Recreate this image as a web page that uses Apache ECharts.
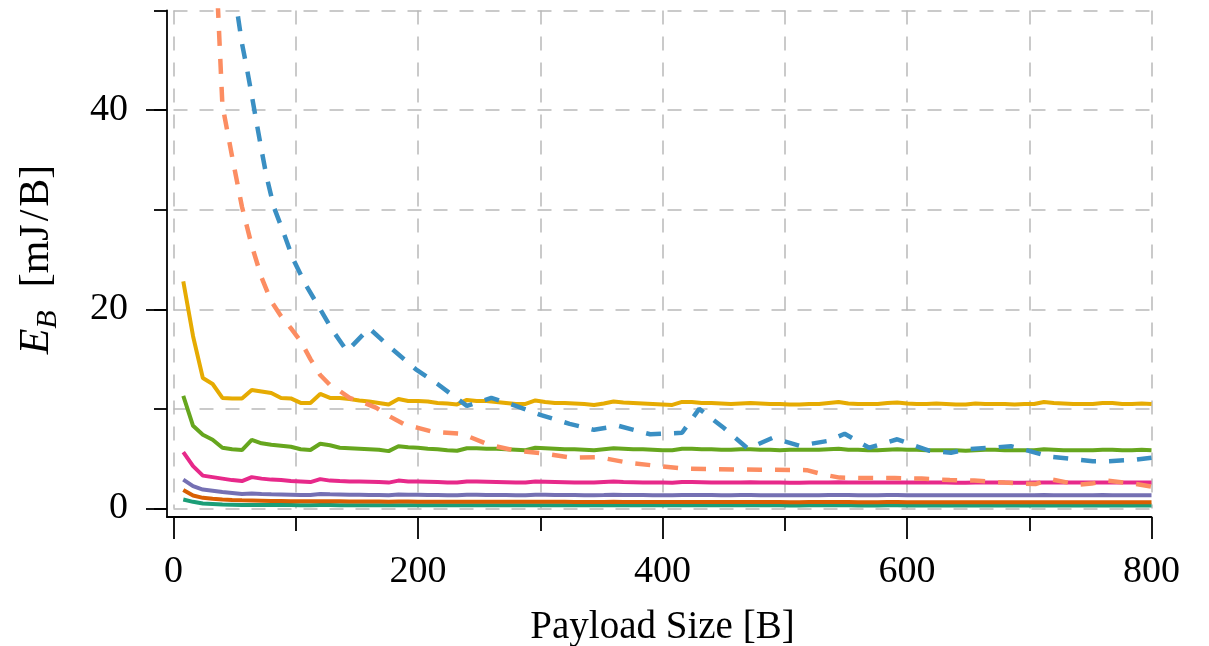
<!DOCTYPE html>
<html>
<head>
<meta charset="utf-8">
<script src="https://cdn.jsdelivr.net/npm/echarts@6/dist/echarts.min.js"></script>
<style>
html,body{margin:0;padding:0;background:#fff;}
#chart{width:1209px;height:646px;}
</style>
</head>
<body>
<div id="chart"></div>
<script>
// ---- data ----
const payloadX = [];
for (let v = 8; v <= 800; v += 8) payloadX.push(v);

const yellowY = [
  22.8, 17.3, 13.1, 12.5, 11.1, 11.05, 11.05, 11.9, 11.75, 11.6,
  11.1, 11.05, 10.6, 10.6, 11.5, 11.1, 11.1, 11.0, 10.85, 10.75,
  10.6, 10.45, 11.0, 10.8, 10.8, 10.75, 10.6, 10.55, 10.45, 10.9,
  10.8, 10.8, 10.7, 10.6, 10.5, 10.5, 10.85, 10.7, 10.6, 10.6,
  10.55, 10.5, 10.4, 10.55, 10.75, 10.65, 10.6, 10.55, 10.5, 10.45,
  10.4, 10.7, 10.7, 10.6, 10.6, 10.55, 10.5, 10.55, 10.6, 10.55,
  10.5, 10.5, 10.45, 10.45, 10.5, 10.5, 10.6, 10.7, 10.55, 10.5,
  10.5, 10.5, 10.6, 10.65, 10.55, 10.5, 10.5, 10.55, 10.5, 10.45,
  10.45, 10.55, 10.5, 10.5, 10.5, 10.45, 10.5, 10.5, 10.7, 10.6,
  10.55, 10.5, 10.5, 10.5, 10.6, 10.6, 10.5, 10.5, 10.55, 10.5
];
const greenY = [
  11.3, 8.3, 7.4, 6.9, 6.1, 5.95, 5.87, 6.9, 6.55, 6.4,
  6.3, 6.2, 5.95, 5.87, 6.5, 6.35, 6.1, 6.05, 6.0, 5.95,
  5.9, 5.76, 6.25, 6.15, 6.1, 6.0, 5.95, 5.85, 5.8, 6.05,
  6.05, 6.0, 6.0, 5.95, 5.9, 5.85, 6.1, 6.05, 6.0, 5.95,
  5.95, 5.9, 5.85, 5.95, 6.05, 6.0, 5.95, 5.95, 5.9, 5.85,
  5.85, 6.0, 6.0, 5.95, 5.95, 5.9, 5.9, 5.95, 5.95, 5.9,
  5.9, 5.85, 5.9, 5.9, 5.9, 5.9, 5.95, 6.0, 5.9, 5.9,
  5.85, 5.85, 5.9, 5.95, 5.9, 5.9, 5.85, 5.85, 5.85, 5.85,
  5.8, 5.85, 5.9, 5.9, 5.85, 5.85, 5.85, 5.85, 5.95, 5.9,
  5.85, 5.85, 5.85, 5.85, 5.9, 5.9, 5.85, 5.85, 5.9, 5.85
];
const pinkY = [
  5.66, 4.25, 3.3, 3.15, 3.0, 2.85, 2.75, 3.15, 3.0, 2.9,
  2.85, 2.75, 2.7, 2.65, 2.95, 2.8, 2.75, 2.72, 2.7, 2.68,
  2.65, 2.6, 2.8, 2.72, 2.7, 2.68, 2.65, 2.62, 2.6, 2.72,
  2.7, 2.68, 2.66, 2.64, 2.62, 2.6, 2.7, 2.68, 2.66, 2.64,
  2.62, 2.6, 2.6, 2.65, 2.7, 2.66, 2.64, 2.62, 2.6, 2.6,
  2.58, 2.66, 2.66, 2.64, 2.62, 2.6, 2.6, 2.62, 2.64, 2.62,
  2.6, 2.6, 2.58, 2.58, 2.6, 2.6, 2.62, 2.64, 2.62, 2.6,
  2.6, 2.6, 2.62, 2.62, 2.6, 2.6, 2.6, 2.6, 2.6, 2.58,
  2.58, 2.6, 2.6, 2.6, 2.6, 2.58, 2.58, 2.6, 2.62, 2.6,
  2.6, 2.6, 2.6, 2.6, 2.62, 2.6, 2.6, 2.6, 2.6, 2.6
];
const purpleY = [
  2.9, 2.25, 1.9, 1.78, 1.65, 1.55, 1.45, 1.5, 1.45, 1.42,
  1.4, 1.38, 1.36, 1.35, 1.45, 1.42, 1.4, 1.38, 1.37, 1.36,
  1.35, 1.34, 1.4, 1.38, 1.37, 1.36, 1.35, 1.34, 1.34, 1.38,
  1.37, 1.36, 1.36, 1.35, 1.34, 1.34, 1.38, 1.37, 1.36, 1.35,
  1.35, 1.34, 1.34, 1.35, 1.37, 1.36, 1.35, 1.35, 1.34, 1.34,
  1.33, 1.36, 1.36, 1.35, 1.35, 1.34, 1.34, 1.35, 1.35, 1.34,
  1.34, 1.34, 1.33, 1.33, 1.34, 1.34, 1.35, 1.36, 1.35, 1.34,
  1.34, 1.34, 1.35, 1.35, 1.34, 1.34, 1.34, 1.34, 1.34, 1.33,
  1.33, 1.34, 1.34, 1.34, 1.34, 1.33, 1.33, 1.34, 1.35, 1.34,
  1.34, 1.34, 1.34, 1.34, 1.35, 1.34, 1.34, 1.34, 1.34, 1.34
];
const darkOrangeY = [
  1.85, 1.3, 1.07, 0.98, 0.9, 0.85, 0.82, 0.8, 0.78, 0.76,
  0.75, 0.74, 0.73, 0.72, 0.74, 0.73, 0.72, 0.71, 0.71, 0.7,
  0.7, 0.69, 0.7, 0.7, 0.69, 0.69, 0.68, 0.68, 0.68, 0.69,
  0.68, 0.68, 0.68, 0.67, 0.67, 0.67, 0.68, 0.67, 0.67, 0.67,
  0.66, 0.66, 0.66, 0.66, 0.67, 0.66, 0.66, 0.66, 0.66, 0.65,
  0.65, 0.66, 0.66, 0.65, 0.65, 0.65, 0.65, 0.65, 0.65, 0.65,
  0.65, 0.65, 0.64, 0.64, 0.65, 0.65, 0.65, 0.65, 0.65, 0.64,
  0.64, 0.64, 0.65, 0.65, 0.64, 0.64, 0.64, 0.64, 0.64, 0.64,
  0.64, 0.64, 0.64, 0.64, 0.64, 0.63, 0.63, 0.64, 0.64, 0.64,
  0.64, 0.63, 0.63, 0.63, 0.64, 0.64, 0.63, 0.63, 0.63, 0.63
];
const tealY = [
  0.9, 0.67, 0.5, 0.45, 0.4, 0.38, 0.36, 0.35, 0.35, 0.34,
  0.34, 0.34, 0.33, 0.33, 0.34, 0.34, 0.33, 0.33, 0.33, 0.33,
  0.33, 0.33, 0.33, 0.33, 0.33, 0.33, 0.33, 0.32, 0.32, 0.33,
  0.33, 0.33, 0.32, 0.32, 0.32, 0.32, 0.33, 0.32, 0.32, 0.32,
  0.32, 0.32, 0.32, 0.32, 0.32, 0.32, 0.32, 0.32, 0.32, 0.32,
  0.32, 0.32, 0.32, 0.32, 0.32, 0.32, 0.32, 0.32, 0.32, 0.32,
  0.32, 0.32, 0.31, 0.31, 0.32, 0.32, 0.32, 0.32, 0.32, 0.31,
  0.31, 0.31, 0.32, 0.32, 0.31, 0.31, 0.31, 0.31, 0.31, 0.31,
  0.31, 0.31, 0.31, 0.31, 0.31, 0.31, 0.31, 0.31, 0.31, 0.31,
  0.31, 0.31, 0.31, 0.31, 0.31, 0.31, 0.31, 0.31, 0.31, 0.31
];

const blueX = [48, 52, 56, 60, 64, 68, 72, 76, 82, 90, 98, 108, 120, 130, 142, 160, 178, 198, 216, 240,
  260, 280, 300, 324, 344, 364, 390, 416, 430, 450, 470, 490, 512, 536, 549, 569, 592, 618, 636, 650,
  668, 685, 695, 717, 752, 765, 787, 800];
const blueY = [55, 50, 46.7, 44.2, 41.5, 38.7, 36, 33.4, 30.3, 27.7, 25, 22.5, 20, 17.9, 15.8, 18.1, 16.1, 14, 12.5, 10.3,
  11.1, 10.3, 9.4, 8.5, 7.9, 8.3, 7.45, 7.6, 10.0, 8.1, 6.0, 7.1, 6.3, 6.8, 7.5, 6.1, 6.95, 5.8, 5.6, 5.95,
  6.1, 6.25, 5.95, 5.2, 4.75, 4.75, 4.9, 5.1];

const orangeX = [32, 40, 48, 56, 64, 72, 80, 88, 96, 104, 112, 120, 128, 136, 144, 156, 166, 176, 188, 200,
  212, 236, 258, 280, 304, 326, 348, 372, 394, 418, 440, 480, 518, 532, 545, 565, 590, 612, 635, 655,
  680, 705, 717, 740, 751, 764, 785, 800];
const orangeY = [62, 40.5, 35.3, 30.3, 26.4, 23.2, 20.8, 19.3, 18.1, 16.8, 15, 13.4, 12.4, 11.8, 11.1, 10.6, 10.1, 9.3, 8.5, 8.1,
  7.7, 7.5, 6.4, 5.8, 5.5, 5.1, 5.15, 4.6, 4.3, 4.0, 3.95, 3.9, 3.85, 3.4, 3.1, 3.05, 3.05, 3.0, 2.85, 2.8,
  2.6, 2.45, 2.95, 2.4, 2.5, 2.8, 2.5, 2.2];

const xTickLabels = [0, 200, 400, 600, 800];
const yTickLabels = [0, 20, 40];

// ---- chart ----
const FONT = 'Liberation Serif';
const gridLine = { color: '#b9b9b9', width: 1.5, type: [14, 12] };
const blackLine = { color: '#000', width: 1.8 };

function pairs(xs, ys) { return xs.map((x, i) => [x, ys[i]]); }
function solid(name, ys, color) {
  return { name, type: 'line', data: pairs(payloadX, ys), showSymbol: false, symbol: 'none',
    lineStyle: { color, width: 4 }, xAxisIndex: 0, yAxisIndex: 0, animation: false, clip: true };
}
function dashed(name, xs, ys, color) {
  return { name, type: 'line', data: pairs(xs, ys), showSymbol: false, symbol: 'none',
    lineStyle: { color, width: 4.5, type: [15, 13] }, xAxisIndex: 0, yAxisIndex: 0, animation: false, clip: true };
}

const chart = echarts.init(document.getElementById('chart'), null, { renderer: 'canvas' });
chart.setOption({
  backgroundColor: '#fff',
  animation: false,
  grid: [
    { left: 173.5, right: 57.5, top: 10.5, bottom: 137.5, containLabel: false, outerBoundsMode: 'none' },
    { left: 167, right: 57.5, top: 10.5, bottom: 129, containLabel: false, outerBoundsMode: 'none' }
  ],
  xAxis: [
    {
      gridIndex: 0, type: 'value', min: 0, max: 800, interval: 200, position: 'bottom', offset: 8.5,
      axisLine: { show: false, onZero: false },
      axisTick: { show: true, inside: false, length: 22, lineStyle: blackLine },
      minorTick: { show: true, splitNumber: 2, length: 14, lineStyle: blackLine },
      splitLine: { show: true, lineStyle: gridLine },
      minorSplitLine: { show: true, lineStyle: gridLine },
      axisLabel: { margin: 36, fontFamily: FONT, fontSize: 38, color: '#000',
        customValues: xTickLabels },
      name: 'Payload Size [B]', nameLocation: 'middle', nameGap: 91,
      nameTextStyle: { fontFamily: FONT, fontSize: 39, color: '#000' }
    },
    {
      gridIndex: 1, type: 'value', min: 0, max: 1, position: 'bottom',
      axisLine: { show: true, onZero: false, lineStyle: blackLine },
      axisTick: { show: false }, axisLabel: { show: false }, splitLine: { show: false }
    }
  ],
  yAxis: [
    {
      gridIndex: 0, type: 'value', min: 0, max: 50, interval: 10, position: 'left', offset: 6.5,
      axisLine: { show: false, onZero: false },
      axisTick: { show: true, inside: false, length: 13, lineStyle: blackLine },
      splitLine: { show: true, lineStyle: gridLine },
      axisLabel: { show: false },
      name: '{e|E}{s|B}  [mJ{sl|/}B]', nameLocation: 'middle', nameGap: 104, nameRotate: 90,
      nameTextStyle: {
        fontFamily: FONT, fontSize: 42, color: '#000',
        rich: {
          e: { fontFamily: FONT, fontSize: 42, fontStyle: 'italic', color: '#000' },
          s: { fontFamily: FONT, fontSize: 30, fontStyle: 'italic', color: '#000', padding: [22, 2, 0, 0] },
          sl: { fontFamily: FONT, fontSize: 42, color: '#000', padding: [0, 3, 0, 3] }
        }
      }
    },
    {
      gridIndex: 0, type: 'value', min: 0, max: 50, interval: 10, position: 'left', offset: 6.5,
      axisLine: { show: false, onZero: false },
      axisTick: { show: true, inside: false, length: 21, lineStyle: blackLine, customValues: yTickLabels },
      splitLine: { show: false },
      axisLabel: { show: true, margin: 39, fontFamily: FONT, fontSize: 38, color: '#000', customValues: yTickLabels }
    },
    {
      gridIndex: 1, type: 'value', min: 0, max: 1, position: 'left',
      axisLine: { show: true, onZero: false, lineStyle: blackLine },
      axisTick: { show: false }, axisLabel: { show: false }, splitLine: { show: false }
    }
  ],
  series: [
    solid('teal', tealY, '#1b9e77'),
    solid('darkorange', darkOrangeY, '#d95f02'),
    solid('purple', purpleY, '#7570b3'),
    solid('pink', pinkY, '#e7298a'),
    solid('green', greenY, '#66a61e'),
    solid('yellow', yellowY, '#e6ab02'),
    dashed('orange', orangeX, orangeY, '#fc8d62'),
    dashed('blue', blueX, blueY, '#3a8fc3')
  ]
});
</script>
</body>
</html>
